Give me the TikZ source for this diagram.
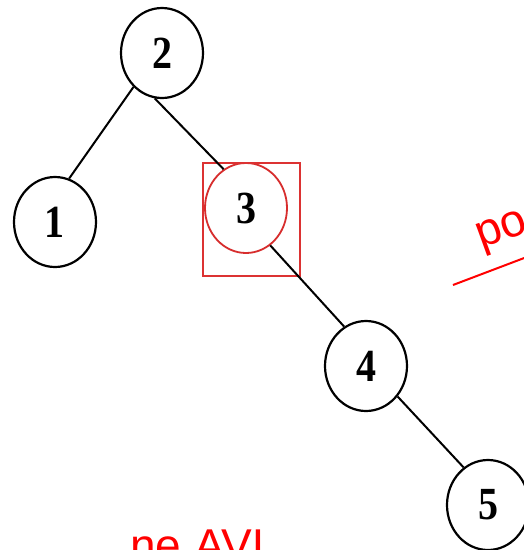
\documentclass[tikz,border=0pt]{standalone}
\usepackage{fontspec}
\setmainfont{Liberation Serif}
\newfontfamily\redsans{Liberation Sans}
\usetikzlibrary{shapes.geometric}
\tikzset{
  treenode/.style={ellipse, draw=black, line width=2.2pt, inner sep=0pt,
    minimum width=82pt, minimum height=90pt,
    font=\fontsize{40}{40}\selectfont\bfseries},
  edge/.style={draw=black, line width=2pt},
  redtext/.style={text=red, font=\redsans\fontsize{46}{46}\selectfont, inner sep=0pt},
}
\newcommand{\dg}[1]{\scalebox{1}[1.15]{#1}}
\begin{document}
\begin{tikzpicture}[x=1pt, y=-1pt]
\clip (0,0) rectangle (524,550);
\fill[white] (0,0) rectangle (524,550);
\node[treenode] (n2) at (162,53) {\dg{2}};
\node[treenode] (n1) at (55,222) {\dg{1}};
\node[treenode, draw={rgb,255:red,215;green,45;blue,45}, line width=1.8pt] (n3) at (246,208) {\dg{3}};
\node[treenode] (n4) at (366,366) {\dg{4}};
\node[treenode] (n5) at (488,505) {\dg{5}};
\node[draw={rgb,255:red,220;green,50;blue,50}, line width=1.3pt, inner sep=0pt,
  minimum width=97pt, minimum height=113pt] (box3) at (251.5,219.5) {};
\draw[edge] (n2.-130) -- (n1.72);
\draw[edge] (n2.-99) -- (n3.120);
\draw[edge] (n3.-57) -- (n4.119);
\draw[edge] (n4.-44) -- (n5.123);
\coordinate (ra) at (453,285);
\coordinate (rb) at (540,252);
\draw[red, line width=2pt] (ra) -- (rb);
\node[redtext, anchor=base west, rotate=20] (po) at (481,249) {po};
\node[redtext, anchor=base west] (neavl) at (130,561) {ne AVL};
\end{tikzpicture}
\end{document}
